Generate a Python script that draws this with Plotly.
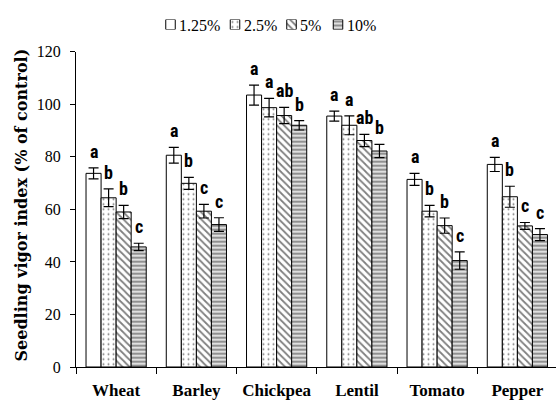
import plotly.graph_objects as go

# ---- data -------------------------------------------------------------
crops = ["Wheat", "Barley", "Chickpea", "Lentil", "Tomato", "Pepper"]
doses = ["1.25%", "2.5%", "5%", "10%"]

vigor_125 = [73.7, 80.6, 103.5, 95.5, 71.4, 77.1]
vigor_25 = [64.4, 69.9, 98.7, 92.0, 59.3, 64.8]
vigor_5 = [59.0, 59.3, 95.7, 86.2, 53.8, 53.7]
vigor_10 = [45.7, 54.2, 92.0, 82.2, 40.5, 50.4]

se_125 = [2.1, 3.0, 3.8, 1.9, 2.3, 2.7]
se_25 = [3.4, 2.3, 3.5, 3.6, 2.2, 4.0]
se_5 = [2.5, 2.6, 3.1, 2.3, 2.9, 1.3]
se_10 = [1.4, 2.6, 1.8, 2.5, 3.3, 2.3]

letters_125 = ["a", "a", "a", "a", "a", "a"]
letters_25 = ["b", "b", "a", "a", "b", "b"]
letters_5 = ["b", "c", "ab", "ab", "b", "c"]
letters_10 = ["c", "c", "b", "b", "c", "c"]

y_ticks = [0, 20, 40, 60, 80, 100, 120]

# ---- styling ----------------------------------------------------------
W, H = 556, 403
MB = 36                      # bottom margin (px)
PH = H - MB                  # paper height (px)
PLOT_LEFT = 76               # y-axis position (px)
PLOT_TOP = 51.7              # top of y range (px)
BARGAP = 0.25

patterns = [
    dict(shape=""),
    dict(shape=".", fgcolor="black", bgcolor="white", size=5, solidity=0.12),
    dict(shape="\\", fgcolor="black", bgcolor="white", size=5, solidity=0.35),
    dict(shape="-", fgcolor="#222222", bgcolor="white", size=4, solidity=0.65),
]

series = [vigor_125, vigor_25, vigor_5, vigor_10]
errors = [se_125, se_25, se_5, se_10]
letters = [letters_125, letters_25, letters_5, letters_10]

SERIF = "Liberation Serif, Times New Roman, serif"
LETTER_FONT = "Liberation Sans Narrow, Roboto Condensed, Liberation Sans, sans-serif"

fig = go.Figure()

for k, dose in enumerate(doses):
    fig.add_trace(go.Bar(
        x=crops, y=series[k], name=dose,
        marker=dict(color="white", line=dict(color="black", width=1),
                    pattern=patterns[k]),
        error_y=dict(type="data", array=errors[k], color="black",
                     thickness=1.2, width=5),
        showlegend=False,
    ))

# significance letters above each error bar
slot = (1 - BARGAP) / len(doses)
annotations = []
for k in range(len(doses)):
    for i, crop in enumerate(crops):
        annotations.append(dict(
            x=i + (k - (len(doses) - 1) / 2) * slot,
            y=series[k][i] + errors[k][i],
            xref="x", yref="y", text="<b>" + letters[k][i] + "</b>",
            showarrow=False, yanchor="bottom", yshift=4,
            font=dict(family=LETTER_FONT, size=18, color="black"),
        ))

# legend row: small patterned swatches plus labels
legend_swatch_px = [170.5, 235.0, 291.5, 338.0]
legend_text_px = [177, 242, 298, 345]
LEG_Y_PX = 25
for k, dose in enumerate(doses):
    fig.add_trace(go.Bar(
        x=[legend_swatch_px[k]], y=[1], width=[9.5], xaxis="x2", yaxis="y2",
        marker=dict(color="white", line=dict(color="black", width=1),
                    pattern=patterns[k]),
        showlegend=False, hoverinfo="skip",
    ))
    annotations.append(dict(
        x=legend_text_px[k] / W, y=(PH - LEG_Y_PX) / PH, xref="paper", yref="paper",
        text=dose, showarrow=False, xanchor="left", yanchor="middle",
        font=dict(family=SERIF, size=16, color="black"),
    ))

# y-axis title
annotations.append(dict(
    x=21.5 / W, y=(PH - 205) / PH, xref="paper", yref="paper",
    text="<b>Seedling vigor index (% of control)</b>", textangle=-90,
    showarrow=False, xanchor="center", yanchor="middle",
    font=dict(family="DejaVu Serif, serif", size=16, color="black"),
))

cat_px = 80.25
x_right = -0.5 + (W - PLOT_LEFT) / cat_px

fig.update_layout(
    width=W, height=H,
    margin=dict(l=0, r=0, t=0, b=MB, pad=0),
    paper_bgcolor="white", plot_bgcolor="white",
    barmode="group", bargap=BARGAP, bargroupgap=0,
    showlegend=False,
    annotations=annotations,
    xaxis=dict(
        domain=[PLOT_LEFT / W, 1], range=[-0.5, x_right],
        showline=True, linecolor="black", linewidth=1,
        ticks="outside", tickson="boundaries", ticklen=6, tickcolor="black",
        tickfont=dict(family=SERIF, size=17, color="black", weight="bold"),
        ticklabelstandoff=8, showgrid=False, automargin=False,
    ),
    yaxis=dict(
        domain=[0, (PH - PLOT_TOP) / PH], range=[0, 120],
        tickvals=y_ticks, showline=True, linecolor="black", linewidth=1,
        ticks="outside", ticklen=5, tickcolor="black",
        tickfont=dict(family=SERIF, size=16, color="black"),
        ticklabelstandoff=6, showgrid=False, zeroline=False, automargin=False,
    ),
    xaxis2=dict(domain=[0, 1], range=[0, W], visible=False, anchor="y2"),
    yaxis2=dict(domain=[(PH - 29.5) / PH, (PH - 19.5) / PH], range=[0, 1],
                visible=False, anchor="x2"),
)

fig.write_html("out.html")
